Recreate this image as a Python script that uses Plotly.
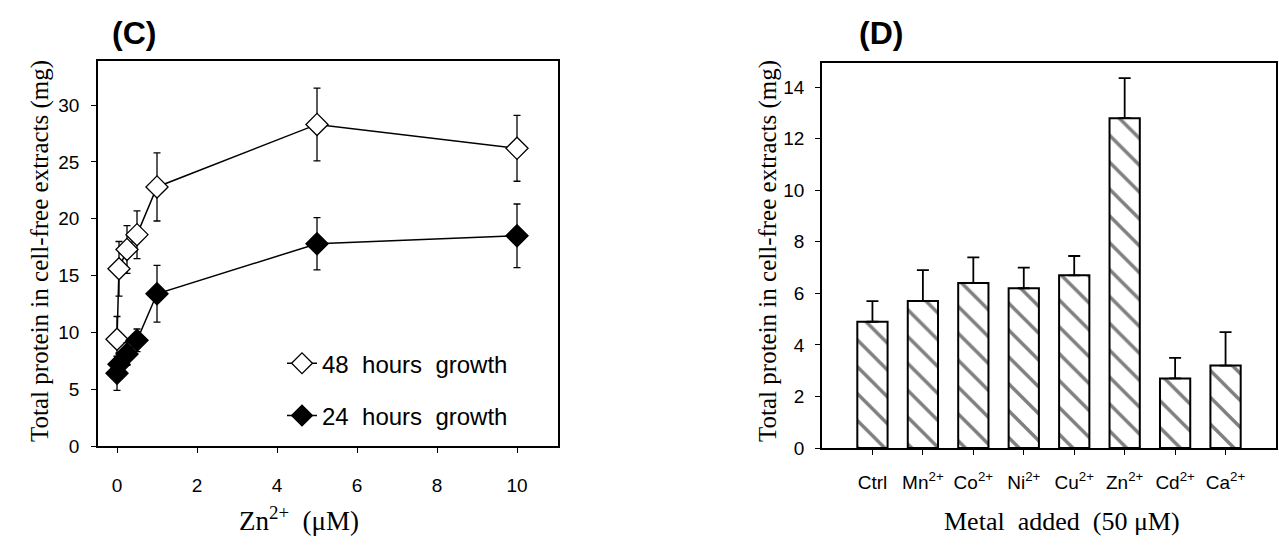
import plotly.graph_objects as go

# ---- Panel C data ----
zn_conc = [0, 0.05, 0.25, 0.5, 1, 5, 10]
growth48 = [9.4, 15.6, 17.3, 18.6, 22.8, 28.3, 26.2]
growth48_err = [2.0, 2.4, 2.1, 2.1, 3.0, 3.2, 2.9]
growth24 = [6.4, 7.2, 8.1, 9.3, 13.4, 17.8, 18.5]
growth24_err = [1.5, 1.0, 1.0, 1.0, 2.5, 2.3, 2.8]

# ---- Panel D data ----
metals = ["Ctrl", "Mn<sup>2+</sup>", "Co<sup>2+</sup>", "Ni<sup>2+</sup>",
          "Cu<sup>2+</sup>", "Zn<sup>2+</sup>", "Cd<sup>2+</sup>", "Ca<sup>2+</sup>"]
protein = [4.9, 5.7, 6.4, 6.2, 6.7, 12.8, 2.7, 3.2]
protein_err = [0.8, 1.2, 1.0, 0.8, 0.75, 1.55, 0.8, 1.3]

W, H = 1279, 559
def px_x(p): return p / W
def px_y(p): return 1 - p / H

NB = "\u00a0"
fig = go.Figure()

fig.add_trace(go.Scatter(
    x=zn_conc, y=growth48, mode="lines+markers", name=f"48{NB}{NB}hours{NB}{NB}growth",
    legendgroup="a",
    line=dict(color="black", width=1.5),
    marker=dict(symbol="diamond", size=17, color="white", line=dict(color="black", width=1.3)),
    error_y=dict(type="data", array=growth48_err, color="black", thickness=1.3, width=3.5),
    xaxis="x", yaxis="y"))
fig.add_trace(go.Scatter(
    x=zn_conc, y=growth24, mode="lines+markers", name=f"24{NB}{NB}hours{NB}{NB}growth",
    legendgroup="b",
    line=dict(color="black", width=1.5),
    marker=dict(symbol="diamond", size=17, color="black", line=dict(color="black", width=1.3)),
    error_y=dict(type="data", array=growth24_err, color="black", thickness=1.3, width=3.5),
    xaxis="x", yaxis="y"))

fig.add_trace(go.Bar(
    x=list(range(len(metals))), y=protein, width=0.6, showlegend=False,
    marker=dict(color="white", line=dict(color="black", width=2),
                pattern=dict(shape="\\", fgcolor="black", bgcolor="white", size=19, solidity=0.18)),
    error_y=dict(type="data", symmetric=False, array=protein_err, arrayminus=[0]*len(protein),
                 color="black", thickness=1.8, width=6),
    xaxis="x2", yaxis="y2"))

tickfont = dict(family="Liberation Sans, Arial", size=19, color="black")
axis_common = dict(showline=True, linecolor="black", linewidth=1.5, mirror=True,
                   ticks="outside", ticklen=5, tickwidth=1.3, tickcolor="black",
                   showgrid=False, zeroline=False, tickfont=tickfont)

fig.update_layout(
    width=W, height=H, margin=dict(l=0, r=0, t=0, b=0),
    paper_bgcolor="white", plot_bgcolor="white",
    xaxis=dict(domain=[px_x(98), px_x(558)], range=[-0.475, 11.025],
               tickvals=[0, 2, 4, 6, 8, 10], anchor="y", ticklabelstandoff=16, **axis_common),
    yaxis=dict(domain=[px_y(455), px_y(62)], range=[0, 33.9],
               tickvals=[0, 5, 10, 15, 20, 25, 30], anchor="x", ticklabelstandoff=8, **axis_common),
    xaxis2=dict(domain=[px_x(822), px_x(1276)], range=[-1, 8],
                tickvals=list(range(len(metals))), ticktext=metals, anchor="y2",
                ticklabelstandoff=11, **axis_common),
    yaxis2=dict(domain=[px_y(457), px_y(64)], range=[0, 14.95],
                tickvals=[0, 2, 4, 6, 8, 10, 12, 14], anchor="x2", ticklabelstandoff=7, **axis_common),
    showlegend=True,
    legend=dict(x=px_x(282), y=px_y(348), xanchor="left", yanchor="top",
                bgcolor="rgba(0,0,0,0)", traceorder="grouped", tracegroupgap=18,
                font=dict(family="Liberation Sans, Arial", size=24, color="black")),
)

serif = "Liberation Serif, Times New Roman"
ann = [
    dict(text="<b>(C)</b>", x=px_x(134), y=px_y(34), font=dict(family="Liberation Sans, Arial", size=32, color="black")),
    dict(text="<b>(D)</b>", x=px_x(881), y=px_y(34), font=dict(family="Liberation Sans, Arial", size=32, color="black")),
    dict(text="Total protein in cell-free extracts (mg)", x=px_x(40), y=px_y(256), textangle=-90,
         font=dict(family=serif, size=25, color="black")),
    dict(text="Total protein in cell-free extracts (mg)", x=px_x(768), y=px_y(256), textangle=-90,
         font=dict(family=serif, size=25, color="black")),
    dict(text=f"Zn<sup>2+</sup>{NB}{NB}(\u03bcM)", x=px_x(299), y=px_y(529),
         font=dict(family=serif, size=27, color="black")),
    dict(text=f"Metal{NB}{NB}added{NB}{NB}(50{NB}\u03bcM)", x=px_x(1062), y=px_y(532),
         font=dict(family=serif, size=26, color="black")),
]
for a in ann:
    fig.add_annotation(xref="paper", yref="paper", showarrow=False,
                       xanchor="center", yanchor="middle", **a)

fig.write_html("out.html", config={"displayModeBar": False},
               post_script="document.body.style.margin='0';document.body.style.overflow='hidden';")
